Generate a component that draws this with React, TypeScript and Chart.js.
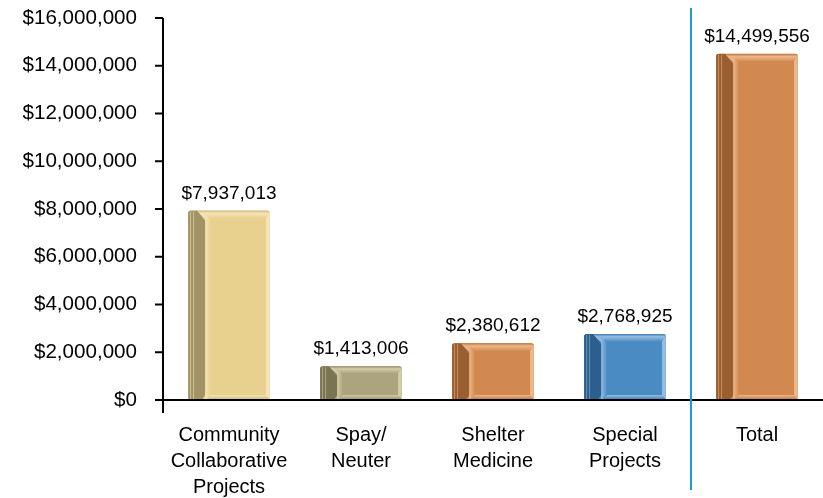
import React, { useEffect, useRef } from "react";
import { Chart, registerables } from "chart.js";
Chart.register(...registerables);

const categories: string[][] = [
  ["Community", "Collaborative", "Projects"],
  ["Spay/", "Neuter"],
  ["Shelter", "Medicine"],
  ["Special", "Projects"],
  ["Total"],
];
const values = [7937013, 1413006, 2380612, 2768925, 14499556];
const yMin = 0;
const yMax = 16000000;
const yStep = 2000000;
const mainColors = ["#E8D08E", "#ABA47C", "#D1894F", "#4B8BC3", "#D1894F"];
const darkColors = ["#A19366", "#7A7452", "#9A5F31", "#2D5F8C", "#9A5F31"];
const lightColors = ["#F4E5B8", "#D2CCA9", "#EDB78C", "#93BEE3", "#EDB78C"];
const midColors = ["#C9B77F", "#958E66", "#B8763F", "#3E77AA", "#B8763F"];
const dividerColor = "#1B9AD6";
const FONT = "'Liberation Sans', Arial, sans-serif";

const money = (v: number) => "$" + Math.round(v).toLocaleString("en-US");

const bevelPlugin = {
  id: "bevel",
  afterDatasetsDraw(chart: any) {
    const ctx = chart.ctx as CanvasRenderingContext2D;
    const meta = chart.getDatasetMeta(0);
    meta.data.forEach((bar: any, i: number) => {
      const p = bar.getProps(["x", "y", "base", "width"], true);
      const L = p.x - p.width / 2;
      const R = p.x + p.width / 2;
      const T = p.y;
      const B = p.base;
      const h = B - T;
      const lw = 17;
      const li = 23;
      const tb = Math.min(8, h * 0.22);
      const rb = 4;
      const bb = Math.min(5, h * 0.15);
      ctx.save();
      ctx.beginPath();
      (ctx as any).roundRect(L, T, R - L, B - T, 3);
      ctx.clip();
      ctx.fillStyle = mainColors[i];
      ctx.fillRect(L, T, R - L, B - T);
      const poly = (pts: number[][], fill: any) => {
        ctx.beginPath();
        ctx.moveTo(pts[0][0], pts[0][1]);
        for (let k = 1; k < pts.length; k++) ctx.lineTo(pts[k][0], pts[k][1]);
        ctx.closePath();
        ctx.fillStyle = fill;
        ctx.fill();
      };
      const gt = ctx.createLinearGradient(0, T, 0, T + tb);
      gt.addColorStop(0, midColors[i]);
      gt.addColorStop(0.35, lightColors[i]);
      gt.addColorStop(1, mainColors[i]);
      poly([[L, T], [R, T], [R - rb, T + tb], [L + li, T + tb]], gt);
      poly([[R, T], [R, B], [R - rb, B - bb], [R - rb, T + tb]], lightColors[i]);
      const gb = ctx.createLinearGradient(0, B - bb, 0, B);
      gb.addColorStop(0, lightColors[i]);
      gb.addColorStop(1, midColors[i]);
      poly([[L + lw, B], [R, B], [R - rb, B - bb], [L + li, B - bb]], gb);
      const gl = ctx.createLinearGradient(L + lw, 0, L + li, 0);
      gl.addColorStop(0, lightColors[i]);
      gl.addColorStop(1, mainColors[i]);
      poly([[L + 8, T], [L + li, T + tb], [L + li, B - bb], [L + lw, B], [L + lw, T + tb]], gl);
      poly([[L, T], [L + 9, T], [L + lw, T + tb + 2], [L + lw, B - bb], [L + lw - 3, B], [L, B]], darkColors[i]);
      ctx.strokeStyle = lightColors[i];
      ctx.globalAlpha = 0.55;
      ctx.lineWidth = 1;
      for (const off of [2.5, 5.5]) {
        ctx.beginPath();
        ctx.moveTo(L + off, T + 1);
        ctx.lineTo(L + off, B);
        ctx.stroke();
      }
      ctx.globalAlpha = 1;
      ctx.fillStyle = mainColors[i];
      ctx.fillRect(L + li, T + tb, R - rb - (L + li), B - bb - (T + tb));
      ctx.restore();

      ctx.save();
      ctx.fillStyle = "#000";
      ctx.font = `19px ${FONT}`;
      ctx.textAlign = "center";
      ctx.textBaseline = "middle";
      ctx.fillText(money(values[i]), p.x, T - 17);
      ctx.restore();
    });
  },
  afterDraw(chart: any) {
    const ctx = chart.ctx as CanvasRenderingContext2D;
    const area = chart.chartArea;
    const ys = chart.scales.y;
    const xs = chart.scales.x;
    ctx.save();
    ctx.strokeStyle = "#000";
    ctx.lineWidth = 2;
    ctx.beginPath();
    ctx.moveTo(area.left, area.top);
    ctx.lineTo(area.left, area.bottom + 13);
    ctx.stroke();
    for (let v = yMin; v <= yMax; v += yStep) {
      const py = ys.getPixelForValue(v);
      ctx.beginPath();
      ctx.moveTo(area.left - 8, py);
      ctx.lineTo(area.left, py);
      ctx.stroke();
    }
    ctx.beginPath();
    ctx.moveTo(area.left - 8, area.bottom);
    ctx.lineTo(chart.width, area.bottom);
    ctx.stroke();
    const n = categories.length;
    const dx = (xs.getPixelForValue(n - 2) + xs.getPixelForValue(n - 1)) / 2;
    ctx.strokeStyle = dividerColor;
    ctx.lineWidth = 2;
    ctx.beginPath();
    ctx.moveTo(dx, 8);
    ctx.lineTo(dx, 490);
    ctx.stroke();
    ctx.restore();
  },
};

export default function App() {
  const ref = useRef<HTMLCanvasElement>(null);
  useEffect(() => {
    document.body.style.margin = "0";
    const chart = new Chart(ref.current!, {
      type: "bar",
      data: {
        labels: categories,
        datasets: [
          {
            data: values,
            backgroundColor: mainColors,
            borderRadius: 3,
            borderSkipped: false,
            categoryPercentage: 1,
            barPercentage: 0.62,
          },
        ],
      },
      options: {
        animation: false,
        responsive: true,
        maintainAspectRatio: false,
        layout: { padding: { top: 18, right: 0, left: 0, bottom: 0 } },
        plugins: { legend: { display: false }, tooltip: { enabled: false } },
        scales: {
          x: {
            grid: { display: false, drawTicks: false },
            border: { display: false },
            ticks: {
              color: "#000",
              font: { family: FONT, size: 20, lineHeight: 1.28 },
              padding: 23,
              maxRotation: 0,
              autoSkip: false,
            },
            afterFit: (s: any) => {
              s.height = 98;
              s.paddingLeft = 0;
              s.paddingRight = 0;
            },
          },
          y: {
            min: yMin,
            max: yMax,
            grid: { display: false, drawTicks: false },
            border: { display: false },
            ticks: {
              stepSize: yStep,
              color: "#000",
              font: { family: FONT, size: 20.6 },
              padding: 26,
              callback: (v: any) => money(Number(v)),
            },
            afterFit: (s: any) => {
              s.width = 163;
              s.paddingTop = 0;
              s.paddingBottom = 0;
            },
          },
        },
      },
      plugins: [bevelPlugin],
    });
    return () => chart.destroy();
  }, []);
  return (
    <div style={{ width: 823, height: 498, position: "relative", background: "#fff" }}>
      <canvas ref={ref} />
    </div>
  );
}
